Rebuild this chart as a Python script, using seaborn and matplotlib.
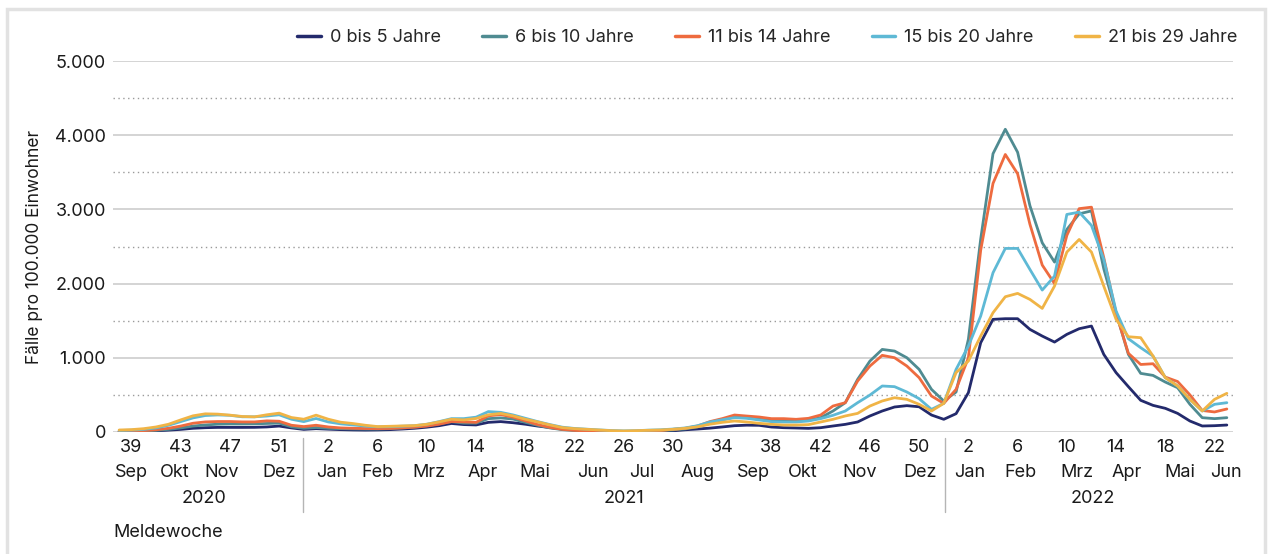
import pandas as pd
import matplotlib.pyplot as plt
import matplotlib.patches as mpatches
import seaborn as sns

# weekly incidence per 100,000 inhabitants, 2020 week 38 .. 2022 week 23
age_0_5 = [5, 7, 10, 15, 25, 35, 50, 58, 62, 62, 62, 63, 68, 80, 55, 35, 45,
           38, 32, 28, 26, 28, 32, 40, 50, 65, 85, 115, 100, 95, 130,
           140, 125, 105, 80, 60, 40, 28, 18, 12, 8, 6, 8, 10,
           12, 16, 30, 40, 52, 68, 85,
           92, 90, 67, 58, 54, 49, 58, 81, 103, 135, 216, 283, 337, 355, 340, 229, 171,
           247, 530, 1203, 1518, 1527, 1527, 1383, 1293, 1212, 1316, 1392, 1428, 1046,
           800, 611, 427, 359, 319, 251, 148, 81, 85, 94]
age_6_10 = [8, 10, 14, 22, 35, 55, 80, 95, 105, 108, 108, 110, 115, 120, 70, 50, 60,
            50, 45, 42, 40, 40, 45, 55, 65, 85, 110, 140, 120, 120, 180,
            190, 175, 130, 90, 55, 32, 20, 13, 9, 7, 6, 8, 12,
            18, 28, 42, 70, 125, 165, 202,
            193, 171, 157, 148, 148, 157, 193, 283, 395, 709, 956, 1113, 1091, 1001, 844, 575, 418,
            539, 1250, 2600, 3750, 4080, 3770, 3050, 2550, 2290, 2730, 2940, 2980, 2200,
            1607, 1046, 790, 763, 673, 597, 373, 193, 180, 193]
age_11_14 = [10, 12, 18, 30, 50, 80, 118, 136, 141, 141, 136, 136, 150, 145, 91, 73, 91,
             68, 55, 50, 46, 45, 48, 55, 65, 80, 105, 141, 136, 130, 218,
             235, 200, 150, 100, 62, 36, 22, 14, 10, 8, 7, 10, 14,
             20, 36, 50, 81, 140, 180, 229,
             215, 202, 180, 180, 171, 184, 229, 350, 395, 687, 889, 1033, 1001, 889, 732, 485, 386,
             575, 1000, 2450, 3350, 3740, 3480, 2800, 2250, 2000, 2650, 3010, 3030, 2350,
             1600, 1060, 910, 920, 740, 680, 500, 290, 270, 310]
age_15_20 = [20, 25, 35, 55, 90, 140, 190, 222, 230, 225, 205, 205, 215, 232, 172, 140, 182,
             135, 110, 95, 80, 70, 72, 78, 85, 105, 140, 180, 180, 200, 275,
             265, 230, 185, 140, 100, 65, 48, 38, 28, 20, 15, 18, 25,
             30, 40, 55, 85, 135, 165, 193,
             184, 162, 139, 135, 135, 148, 180, 225, 283, 395, 498, 620, 611, 539, 449, 305, 386,
             844, 1158, 1563, 2146, 2474, 2474, 2191, 1913, 2101, 2932, 2963, 2784, 2326,
             1630, 1257, 1136, 1024, 732, 620, 440, 283, 373, 395]
age_21_29 = [27, 32, 45, 68, 104, 163, 218, 245, 241, 227, 209, 204, 232, 254, 195, 172, 227,
             172, 132, 114, 91, 73, 77, 82, 86, 104, 136, 172, 163, 182, 232,
             250, 218, 172, 136, 95, 59, 45, 36, 27, 18, 14, 18, 23,
             27, 36, 50, 70, 105, 130, 148,
             135, 117, 103, 94, 94, 99, 135, 171, 216, 251, 350, 418, 462, 440, 373, 283, 386,
             800, 956, 1293, 1607, 1823, 1868, 1787, 1666, 1967, 2425, 2595, 2425, 1967,
             1518, 1284, 1271, 1024, 732, 620, 440, 283, 440, 521]

groups = ["0 bis 5 Jahre", "6 bis 10 Jahre", "11 bis 14 Jahre", "15 bis 20 Jahre", "21 bis 29 Jahre"]
colors = ["#232a6c", "#4f8b91", "#ee6b3f", "#5eb9d5", "#f0b446"]

weeks = ([(2020, w) for w in range(38, 54)] + [(2021, w) for w in range(1, 53)]
         + [(2022, w) for w in range(1, 24)])
tick_weeks = {2020: [39, 43, 47, 51], 2021: list(range(2, 51, 4)), 2022: list(range(2, 23, 4))}
month_labels = ["Sep", "Okt", "Nov", "Dez", "Jan", "Feb", "Mrz", "Apr", "Mai", "Jun", "Jul",
                "Aug", "Sep", "Okt", "Nov", "Dez", "Jan", "Feb", "Mrz", "Apr", "Mai", "Jun"]
month_pos = [1.0, 4.5, 8.3, 13.0, 17.3, 21.0, 25.2, 29.5, 33.8, 38.5, 42.5,
             47.0, 51.5, 55.5, 60.2, 65.1, 69.1, 73.2, 77.8, 81.9, 86.2, 89.9]
years = ["2020", "2021", "2022"]
year_pos = [6.9, 41.0, 79.1]

rows = []
for g, vals in zip(groups, [age_0_5, age_6_10, age_11_14, age_15_20, age_21_29]):
    for i, v in enumerate(vals):
        rows.append({"idx": i, "value": v, "group": g})
df = pd.DataFrame(rows)

sns.set_theme(style="white")
plt.rcParams["font.family"] = ["Inter", "DejaVu Sans"]
fs = 13
txt = "#1a1a1a"

fig = plt.figure(figsize=(12.68, 5.54), dpi=100)
ax = fig.add_axes([113 / 1268, 1 - 432 / 554, 1120 / 1268, 371 / 554])

sns.lineplot(data=df, x="idx", y="value", hue="group", hue_order=groups,
             palette=colors, linewidth=2.0, ax=ax, legend=False)

ax.set_xlim(-0.5, 90.5)
ax.set_ylim(0, 5000)
for s in ax.spines.values():
    s.set_visible(False)

# y axis
ax.set_yticks(range(0, 5001, 1000))
ax.set_yticklabels([f"{v:,}".replace(",", ".") for v in range(0, 5001, 1000)])
ax.set_yticks(range(500, 5000, 1000), minor=True)
ax.grid(axis="y", which="major", color="#d4d4d4", linewidth=1.4)
ax.grid(axis="y", which="minor", color="#9a9a9a", linewidth=1.0, linestyle=(0, (1, 2.5)))
ax.grid(axis="x", visible=False)
ax.set_axisbelow(True)
ax.tick_params(axis="y", which="both", length=0, pad=5, labelsize=fs, labelcolor=txt)

# x axis: weeks, months, years
tpos, tlab = [], []
for i, (y, w) in enumerate(weeks):
    if w in tick_weeks[y]:
        tpos.append(i)
        tlab.append(str(w))
ax.set_xticks(tpos)
ax.set_xticklabels(tlab)
ax.tick_params(axis="x", length=0, pad=5, labelsize=fs, labelcolor=txt)
ax.set_xlabel("")
ax.set_ylabel("")

tr = ax.get_xaxis_transform()
for m, p in zip(month_labels, month_pos):
    ax.text(p, -0.108, m, transform=tr, ha="center", va="center", fontsize=fs, color=txt)
for yl, p in zip(years, year_pos):
    ax.text(p, -0.178, yl, transform=tr, ha="center", va="center", fontsize=fs, color=txt)
for p in [14.9, 67.1]:
    ax.plot([p, p], [-0.016, -0.216], transform=tr, color="#b5b5b5", lw=1, clip_on=False)

ax.text(0, -0.272, "Meldewoche", transform=ax.transAxes, ha="left", va="center",
        fontsize=fs, color=txt)
fig.text(35 / 1268, 1 - 247 / 554, "Fälle pro 100.000 Einwohner", rotation=90,
         ha="center", va="center", fontsize=12.5, color=txt)

handles = [plt.Line2D([], [], color=c, lw=2.5) for c in colors]
fig.legend(handles, groups, loc="center right", bbox_to_anchor=(1237 / 1268, 1 - 38 / 554),
           ncol=5, frameon=False, fontsize=fs, handlelength=1.3, handletextpad=0.5,
           columnspacing=2.3, borderaxespad=0, borderpad=0)

# card border
fig.patches.append(mpatches.Rectangle((7 / 1268, -0.01), 1258 / 1268, 1 - 9 / 554 + 0.01,
                                      transform=fig.transFigure, fill=False,
                                      edgecolor="#e2e2e2", lw=2.5))

fig.savefig("out.png", dpi=100, facecolor="white")
